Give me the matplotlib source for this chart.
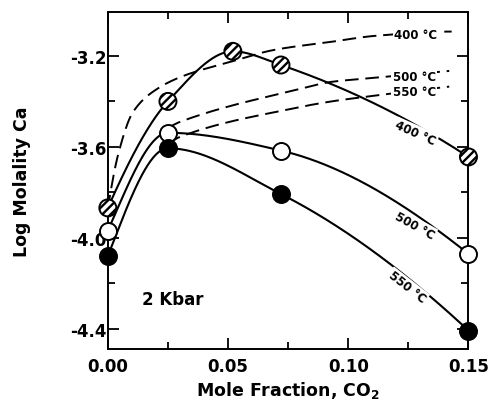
import numpy as np
import matplotlib
matplotlib.use("Agg")
import matplotlib.pyplot as plt

plt.rcParams['font.family'] = ['DejaVu Sans']
plt.rcParams['font.weight'] = 'bold'
plt.rcParams['axes.unicode_minus'] = False
plt.rcParams['hatch.linewidth'] = 1.7

# ---- data ----
x_obs = [0.0, 0.025, 0.052, 0.072, 0.15]
y_400 = [-3.868, -3.40, -3.18, -3.24, -3.644]
x_obs3 = [0.0, 0.025, 0.072, 0.15]
y_500 = [-3.968, -3.538, -3.616, -4.07]
y_550 = [-4.079, -3.606, -3.807, -4.407]

# dashed (calculated) curves
xd_400 = [0.0, 0.0046, 0.0105, 0.0205, 0.0314, 0.051, 0.069, 0.093, 0.111, 0.143]
yd_400 = [-3.87, -3.62, -3.446, -3.345, -3.288, -3.226, -3.174, -3.138, -3.112, -3.093]
xd_500 = [0.025, 0.030, 0.080, 0.093, 0.107, 0.142]
yd_500 = [-3.515, -3.49, -3.345, -3.314, -3.30, -3.266]
xd_550 = [0.025, 0.030, 0.076, 0.093, 0.110, 0.142]
yd_550 = [-3.585, -3.556, -3.433, -3.40, -3.376, -3.335]

xticks = [0.00, 0.05, 0.10, 0.15]
yticks = [-4.4, -4.0, -3.6, -3.2]


def pchip(x, y, xs):
    x = np.asarray(x, float); y = np.asarray(y, float)
    h = np.diff(x); d = np.diff(y) / h
    n = len(x)
    m = np.zeros(n)
    for k in range(1, n - 1):
        if d[k - 1] * d[k] <= 0:
            m[k] = 0.0
        else:
            w1 = 2 * h[k] + h[k - 1]; w2 = h[k] + 2 * h[k - 1]
            m[k] = (w1 + w2) / (w1 / d[k - 1] + w2 / d[k])

    def endslope(h0, h1, d0, d1):
        s = ((2 * h0 + h1) * d0 - h0 * d1) / (h0 + h1)
        if np.sign(s) != np.sign(d0):
            s = 0.0
        elif np.sign(d0) != np.sign(d1) and abs(s) > abs(3 * d0):
            s = 3 * d0
        return s
    if n > 2:
        m[0] = endslope(h[0], h[1], d[0], d[1])
        m[-1] = endslope(h[-1], h[-2], d[-1], d[-2])
    else:
        m[:] = d[0]
    xs = np.asarray(xs)
    idx = np.clip(np.searchsorted(x, xs) - 1, 0, n - 2)
    t = (xs - x[idx]) / h[idx]
    h00 = 2 * t**3 - 3 * t**2 + 1
    h10 = t**3 - 2 * t**2 + t
    h01 = -2 * t**3 + 3 * t**2
    h11 = t**3 - t**2
    return h00 * y[idx] + h10 * h[idx] * m[idx] + h01 * y[idx + 1] + h11 * h[idx] * m[idx + 1]


fig = plt.figure(figsize=(4.88, 4.06), dpi=100)
ax = fig.add_axes([0.221, 0.138, 0.739, 0.830])

lw = 1.5
# solid curves
for xs_, ys_ in [(x_obs, y_400), (x_obs3, y_500), (x_obs3, y_550)]:
    xx = np.linspace(xs_[0], xs_[-1], 400)
    ax.plot(xx, pchip(xs_, ys_, xx), color='black', lw=lw, zorder=2,
            solid_capstyle='butt')

# dashed curves
for xs_, ys_ in [(xd_400, yd_400), (xd_500, yd_500), (xd_550, yd_550)]:
    xx = np.linspace(xs_[0], xs_[-1], 400)
    ax.plot(xx, pchip(xs_, ys_, xx), color='black', lw=1.4, zorder=2,
            dashes=(7, 3.5), dash_capstyle='butt')

# markers
ms = 150
ax.scatter(x_obs, y_400, s=ms, facecolor='white', edgecolor='black',
           linewidths=1.4, hatch='////', zorder=4, clip_on=False)
ax.scatter(x_obs3, y_500, s=ms, facecolor='white', edgecolor='black',
           linewidths=1.4, zorder=4, clip_on=False)
ax.scatter(x_obs3, y_550, s=ms, facecolor='black', edgecolor='black',
           linewidths=1.4, zorder=4, clip_on=False)

# curve labels
lab_kw = dict(fontsize=8.5, fontweight='bold', ha='center', va='center', zorder=3,
              bbox=dict(boxstyle='square,pad=0.12', fc='white', ec='none'))
ax.text(0.1280, -3.104, '400 °C', **lab_kw)
ax.text(0.1275, -3.290, '500 °C', **lab_kw)
ax.text(0.1275, -3.358, '550 °C', **lab_kw)
ax.text(0.1280, -3.539, '400 °C', rotation=-24, rotation_mode='anchor', **lab_kw)
ax.text(0.1275, -3.945, '500 °C', rotation=-29, rotation_mode='anchor', **lab_kw)
ax.text(0.1245, -4.215, '550 °C', rotation=-38, rotation_mode='anchor', **lab_kw)

ax.text(0.0272, -4.27, '2 Kbar', fontsize=12, fontweight='bold',
        ha='center', va='center')

ax.set_xlim(0.0, 0.15)
ax.set_ylim(-4.488, -3.007)
ax.set_xticks(xticks)
ax.set_xticklabels(['0.00', '0.05', '0.10', '0.15'])
ax.set_yticks(yticks)
ax.set_yticklabels(['-4.4', '-4.0', '-3.6', '-3.2'])
ax.set_xticks([0.025, 0.075, 0.125], minor=True)
ax.set_yticks([-4.2, -3.8, -3.4], minor=True)
ax.tick_params(which='both', direction='in', top=True, right=True, width=1.3,
               labelsize=12)
ax.tick_params(which='major', length=8)
ax.tick_params(which='minor', length=5)
ax.tick_params(axis='y', pad=1)
ax.tick_params(axis='x', pad=6)
for sp in ax.spines.values():
    sp.set_linewidth(1.4)

ax.set_xlabel(r'Mole Fraction, CO$_\mathbf{2}$', fontsize=12.5, fontweight='bold',
              labelpad=3)
ax.set_ylabel('Log Molality Ca', fontsize=12.5, fontweight='bold', labelpad=28)

fig.savefig('out.png', dpi=100)
